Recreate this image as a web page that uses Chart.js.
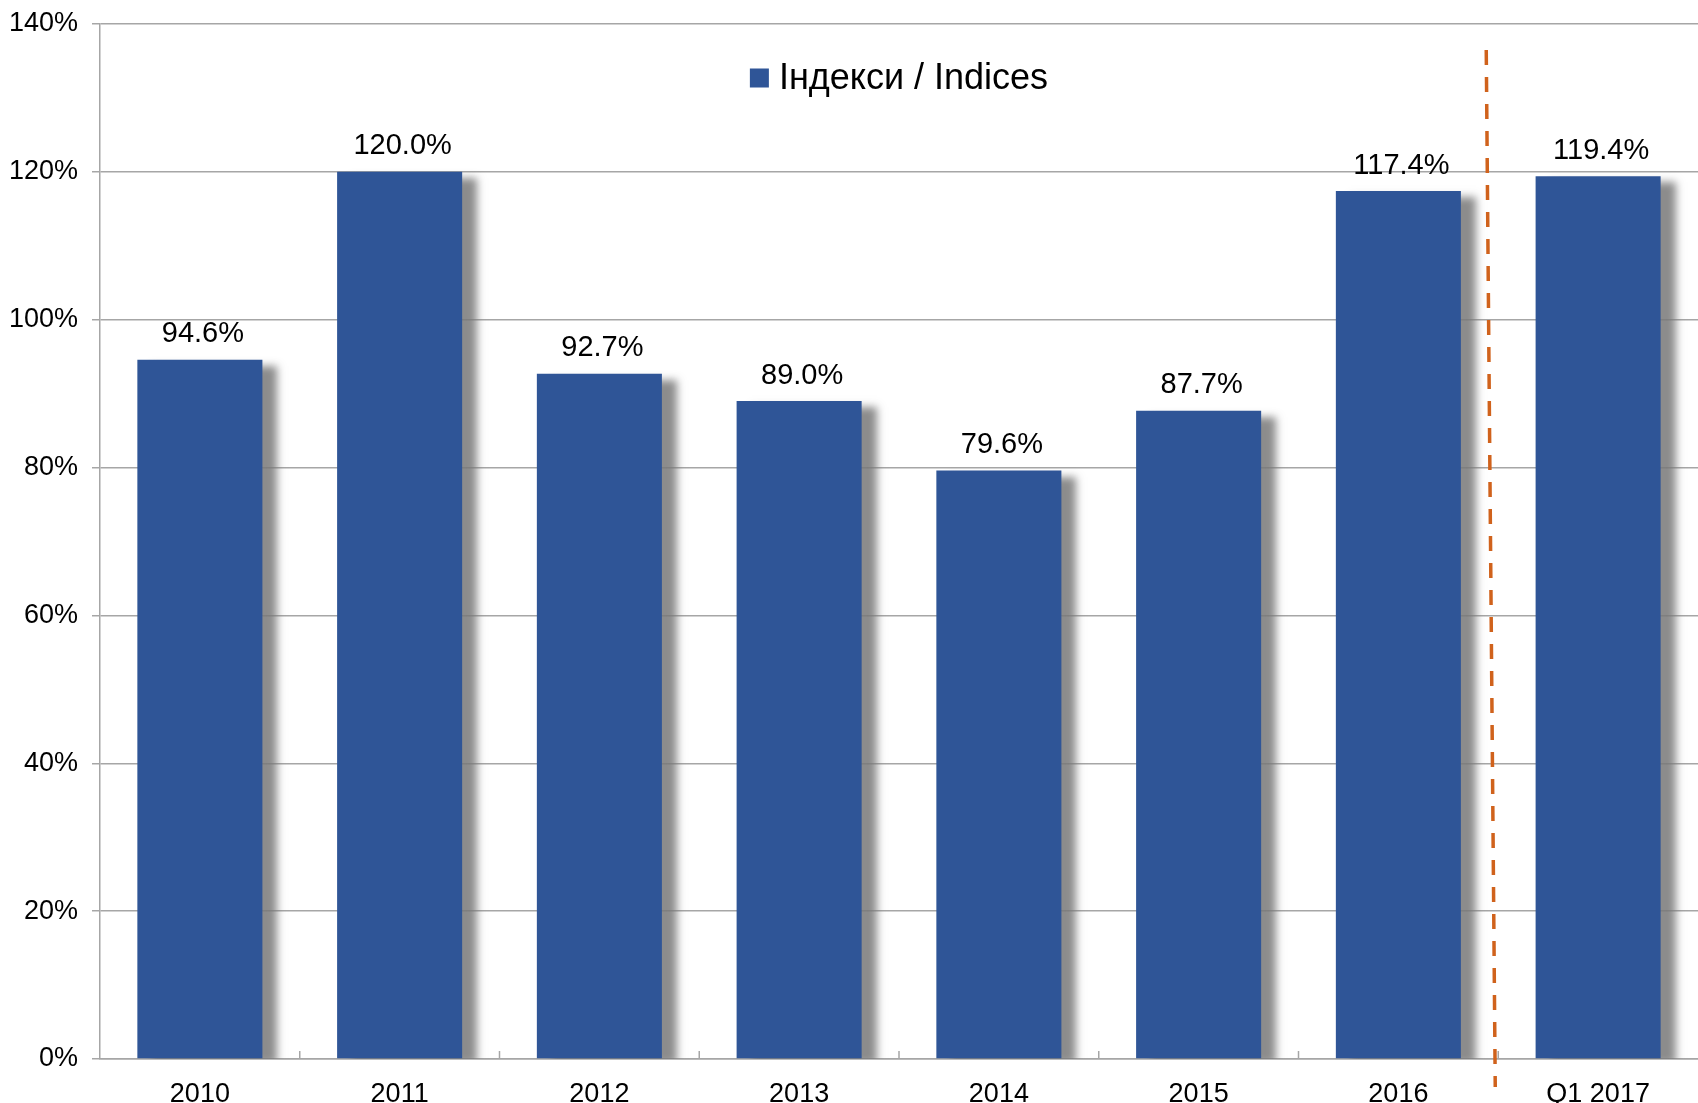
<!DOCTYPE html>
<html>
<head>
<meta charset="utf-8">
<script src="https://cdn.jsdelivr.net/npm/chart.js@4"></script>
<style>
  html, body { margin: 0; padding: 0; background: #fff; }
  #wrap { width: 1698px; height: 1103px; }
</style>
</head>
<body>
<div id="wrap"><canvas id="myChart"></canvas></div>
<script>
// Data
const categories = ["2010", "2011", "2012", "2013", "2014", "2015", "2016", "Q1 2017"];
const indices = [94.6, 120.0, 92.7, 89.0, 79.6, 87.7, 117.4, 119.4];
const seriesName = "Індекси / Indices";
const yTicks = [0, 20, 40, 60, 80, 100, 120, 140];

const FONT = '"Liberation Sans", Arial, sans-serif';
const barColor = "#2F5597";

// shadow behind bars
const barShadow = {
  id: "barShadow",
  beforeDatasetDraw(chart) {
    const ctx = chart.ctx;
    ctx.save();
    ctx.shadowColor = "rgba(120,120,120,0.85)";
    ctx.shadowBlur = 8;
    ctx.shadowOffsetX = 15;
    ctx.shadowOffsetY = 6;
  },
  afterDatasetDraw(chart) {
    chart.ctx.restore();
  }
};

// value labels, legend, separator line, inner ticks
const extras = {
  id: "extras",
  afterDatasetsDraw(chart) {
    const ctx = chart.ctx;
    const meta = chart.getDatasetMeta(0);
    const x = chart.scales.x;
    const area = chart.chartArea;

    // inward tick marks on the x axis
    ctx.save();
    ctx.strokeStyle = "#a6a6a6";
    ctx.lineWidth = 1.5;
    for (let i = 1; i < categories.length; i++) {
      const px = (x.getPixelForValue(i - 1) + x.getPixelForValue(i)) / 2;
      ctx.beginPath();
      ctx.moveTo(px, area.bottom);
      ctx.lineTo(px, area.bottom - 8);
      ctx.stroke();
    }
    ctx.restore();

    // labels above bars
    ctx.save();
    ctx.font = "29px " + FONT;
    ctx.fillStyle = "#000";
    ctx.textAlign = "center";
    ctx.textBaseline = "bottom";
    meta.data.forEach((bar, i) => {
      ctx.fillText(indices[i].toFixed(1) + "%", bar.x + 3, bar.y - 11);
    });
    ctx.restore();

    // dashed separator between 2016 and Q1 2017
    const mid = (x.getPixelForValue(6) + x.getPixelForValue(7)) / 2;
    ctx.save();
    ctx.strokeStyle = "#D0621C";
    ctx.lineWidth = 3.5;
    ctx.setLineDash([15, 12]);
    ctx.beginPath();
    ctx.moveTo(mid - 12, area.top + 26);
    ctx.lineTo(mid - 3, area.bottom + 28);
    ctx.stroke();
    ctx.restore();

    // legend
    ctx.save();
    ctx.font = "36px " + FONT;
    const tw = ctx.measureText(seriesName).width;
    const box = 19, gap = 10;
    const total = box + gap + tw;
    const cx = (area.left + area.right) / 2;
    const left = cx - total / 2;
    const cy = area.top + 54;
    ctx.fillStyle = barColor;
    ctx.fillRect(left, cy - box / 2, box, box);
    ctx.fillStyle = "#000";
    ctx.textBaseline = "middle";
    ctx.textAlign = "left";
    ctx.fillText(seriesName, left + box + gap, cy + 1);
    ctx.restore();
  }
};

const ctx = document.getElementById("myChart");
const myChart = new Chart(ctx, {
  type: "bar",
  data: {
    labels: categories,
    datasets: [{
      label: seriesName,
      data: indices,
      backgroundColor: barColor,
      borderWidth: 0,
      barPercentage: 0.626,
      categoryPercentage: 1.0
    }]
  },
  options: {
    responsive: true,
    maintainAspectRatio: false,
    animation: false,
    layout: { padding: { top: 24, right: 0, left: 0, bottom: 0 } },
    plugins: {
      legend: { display: false },
      tooltip: { enabled: false }
    },
    scales: {
      x: {
        grid: { display: false },
        border: { display: true, color: "#a6a6a6", width: 1.5 },
        ticks: {
          color: "#000",
          font: { family: FONT, size: 27 },
          padding: 11,
          maxRotation: 0
        },
        afterFit(scale) { scale.height = 44; }
      },
      y: {
        min: 0,
        max: 140,
        afterBuildTicks(scale) {
          scale.ticks = yTicks.map(v => ({ value: v }));
        },
        grid: {
          color: "#a6a6a6",
          lineWidth: 1.5,
          tickLength: 8
        },
        border: { display: true, color: "#a6a6a6", width: 1.5 },
        ticks: {
          color: "#000",
          font: { family: FONT, size: 27 },
          padding: 14,
          callback: v => v + "%"
        },
        afterFit(scale) {
          scale.width = 100;
          scale.paddingTop = 0;
          scale.paddingBottom = 0;
        }
      }
    }
  },
  plugins: [barShadow, extras]
});
</script>
</body>
</html>
